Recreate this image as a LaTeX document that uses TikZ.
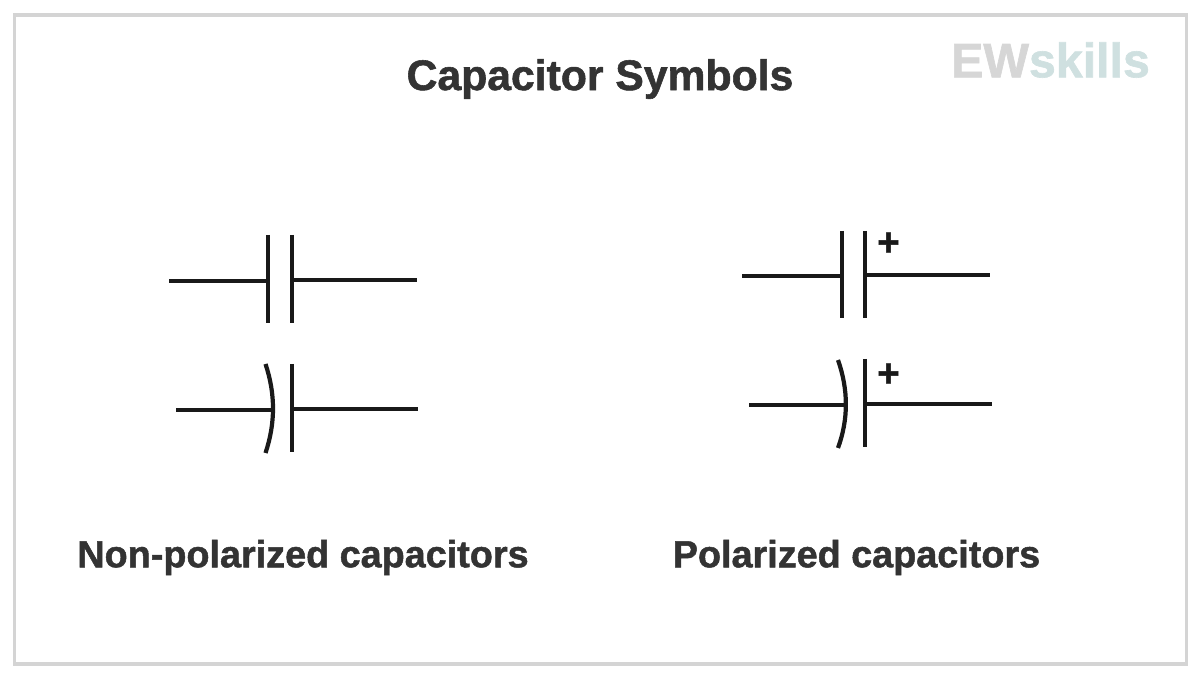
\documentclass[tikz,border=0pt]{standalone}
\usepackage{fontspec}
\setmainfont[BoldFeatures={FakeBold=1.3}]{Liberation Sans}
\definecolor{ink}{RGB}{51,51,51}
\definecolor{frameg}{RGB}{212,212,212}
\definecolor{logog}{RGB}{214,214,214}
\definecolor{logob}{RGB}{207,224,224}
\tikzset{
    wire/.style={line width=4.2*0.02cm, black!90},
    title/.style={inner sep=0pt, text=ink, font=\fontsize{24.3}{24}\selectfont\bfseries},
    caption/.style={inner sep=0pt, text=ink, font=\fontsize{21.5}{24}\selectfont\bfseries},
    polarity/.style={inner sep=0pt, text=black!90, font=\fontsize{22}{22}\selectfont\bfseries},
}

\begin{document}
\begin{tikzpicture}[x=0.02cm,y=-0.02cm]
    % \draw[help lines, gray] (0, 0) grid (1200, 678);
    \useasboundingbox (0, 0) rectangle (1200, 678);
    \draw[frameg, line width=3.6*0.02cm] (14.5, 15) rectangle (1186.5, 664);

    \node[title] (heading) at (600, 79) {Capacitor Symbols};
    \node[inner sep=0pt, font=\fontsize{27.5}{28}\selectfont\bfseries] (logo) at (1050.5, 60) {\textcolor{logog}{EW}\textcolor{logob}{skills}};

    \node[caption] (nonpolar) at (303, 557.5) {Non-polarized capacitors};
    \node[caption] (polar) at (856.5, 557.5) {Polarized capacitors};

    % non-polarized, straight plates
    \coordinate (a in) at (169, 280.7);
    \coordinate (a p) at (268, 280.7);
    \coordinate (a p top) at (268, 235);
    \coordinate (a p bot) at (268, 323);
    \coordinate (a q top) at (292, 235);
    \coordinate (a q bot) at (292, 323);
    \coordinate (a q) at (292, 280);
    \coordinate (a out) at (417, 280);
    \draw[wire] (a in) -- (a p);
    \draw[wire] (a p top) -- (a p bot);
    \draw[wire] (a q top) -- (a q bot);
    \draw[wire] (a q) -- (a out);

    % non-polarized, curved plate
    \coordinate (b in) at (176, 410);
    \coordinate (b p) at (273, 410);
    \coordinate (b p top) at (265.5, 364);
    \coordinate (b p ctl) at (275.5, 394);
    \coordinate (b p ctm) at (275.5, 423);
    \coordinate (b p bot) at (265.5, 453);
    \coordinate (b q top) at (292, 364);
    \coordinate (b q bot) at (292, 452);
    \coordinate (b q) at (292, 409);
    \coordinate (b out) at (418, 409);
    \draw[wire] (b in) -- (b p);
    \draw[wire] (b p top) .. controls (b p ctl) and (b p ctm) .. (b p bot);
    \draw[wire] (b q top) -- (b q bot);
    \draw[wire] (b q) -- (b out);

    % polarized, straight plates
    \coordinate (c in) at (742, 276);
    \coordinate (c p) at (842, 276);
    \coordinate (c p top) at (842, 231);
    \coordinate (c p bot) at (842, 318);
    \coordinate (c q top) at (865, 231);
    \coordinate (c q bot) at (865, 318);
    \coordinate (c q) at (865, 275);
    \coordinate (c out) at (990, 275);
    \draw[wire] (c in) -- (c p);
    \draw[wire] (c p top) -- (c p bot);
    \draw[wire] (c q top) -- (c q bot);
    \draw[wire] (c q) -- (c out);
    \node[polarity] (c plus) at (888.5, 244) {+};

    % polarized, curved plate
    \coordinate (d in) at (749, 405);
    \coordinate (d p) at (846, 405);
    \coordinate (d p top) at (838, 360);
    \coordinate (d p ctl) at (848.5, 390);
    \coordinate (d p ctm) at (848.5, 419);
    \coordinate (d p bot) at (838, 448);
    \coordinate (d q top) at (865, 359);
    \coordinate (d q bot) at (865, 447);
    \coordinate (d q) at (865, 404);
    \coordinate (d out) at (992, 404);
    \draw[wire] (d in) -- (d p);
    \draw[wire] (d p top) .. controls (d p ctl) and (d p ctm) .. (d p bot);
    \draw[wire] (d q top) -- (d q bot);
    \draw[wire] (d q) -- (d out);
    \node[polarity] (d plus) at (888.5, 375) {+};
\end{tikzpicture}
\end{document}
